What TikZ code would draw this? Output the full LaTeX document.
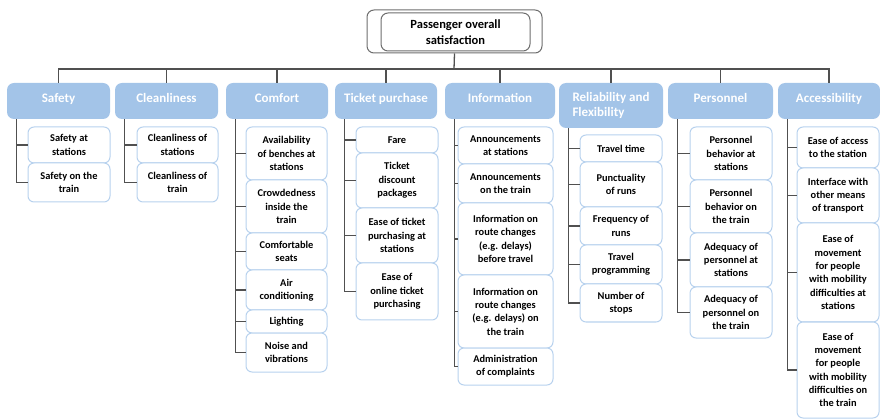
\documentclass[tikz,border=0pt]{standalone}
\usepackage{fontspec}
\setmainfont{Carlito}
\definecolor{hdrfill}{RGB}{163,196,232}
\definecolor{cboxline}{RGB}{184,210,238}
\definecolor{conn}{RGB}{80,80,80}
\definecolor{rootline}{RGB}{110,110,110}
\newcommand\bx[7]{\node[#1, minimum width={#5-#3}, minimum height={#6-#4}] (#2) at ({(#3+#5)/2},{(#4+#6)/2}) {#7};}
\begin{document}
\begin{tikzpicture}[x=1pt,y=-1pt,
  hdr/.style={fill=hdrfill, rounded corners=7pt, inner sep=0pt, text=white, font=\fontsize{13}{15.5}\selectfont\bfseries, align=center},
  hdrone/.style={hdr, text depth=6pt},
  cbox/.style={draw=cboxline, line width=1pt, fill=white, rounded corners=6pt, inner sep=0pt, text=black, font=\fontsize{10.4}{13.3}\selectfont\bfseries, align=center},
  rootbox/.style={draw=rootline, line width=1pt, fill=white, rounded corners=7pt, inner sep=0pt, font=\fontsize{12.5}{16.5}\selectfont\bfseries, align=center},
  conn/.style={draw=conn, line width=1.3pt},
  stub/.style={conn}
]
\useasboundingbox (0,0) rectangle (880,419);
% root
\bx{rootbox}{root}{367}{10}{542}{53}{}
\bx{rootbox}{rooti}{381}{13}{530}{51}{Passenger overall\\satisfaction}
% headers
\bx{hdrone}{h1}{7}{83}{110}{119}{Safety}
\bx{hdrone}{h2}{115}{83}{218}{119}{Cleanliness}
\bx{hdrone}{h3}{226}{83}{328}{119}{Comfort}
\bx{hdrone}{h4}{335}{83}{437}{119}{Ticket purchase}
\bx{hdrone}{h5}{445}{83}{555}{119}{Information}
\bx{hdr,align=left}{h6}{559}{83}{663}{128}{Reliability and\\Flexibility}
\bx{hdrone}{h7}{668}{83}{773}{119}{Personnel}
\bx{hdrone}{h8}{778}{83}{880}{119}{Accessibility}
% bus
\coordinate (bus) at (454,69);
\draw[conn] (root.south) -- (bus);
\draw[conn] (h1.north) -- (h1.north |- bus) -- (h8.north |- bus) -- (h8.north);
\foreach \h in {h2,h3,h4,h5,h6,h7}{\draw[conn] (\h.north) -- (\h.north |- bus);}
% Safety
\bx{cbox}{a1}{28}{127}{110}{163}{Safety at\\stations}
\bx{cbox}{a2}{28}{163}{110}{202}{Safety on the\\train}
% Cleanliness
\bx{cbox}{b1}{137}{127}{218}{163}{Cleanliness of\\stations}
\bx{cbox}{b2}{137}{163}{218}{202}{Cleanliness of\\train}
% Comfort
\bx{cbox}{c1}{246}{127}{327}{180}{Availability\\of benches at\\stations}
\bx{cbox}{c2}{246}{180}{327}{233}{Crowdedness\\inside the\\train}
\bx{cbox}{c3}{246}{233}{327}{270}{Comfortable\\seats}
\bx{cbox}{c4}{246}{270}{327}{310}{Air\\conditioning}
\bx{cbox}{c5}{246}{310}{327}{333}{Lighting}
\bx{cbox}{c6}{246}{333}{327}{372}{Noise and\\vibrations}
% Ticket purchase
\bx{cbox}{d1}{356}{127}{438}{153}{Fare}
\bx{cbox}{d2}{356}{153}{438}{208}{Ticket\\discount\\packages}
\bx{cbox}{d3}{356}{208}{438}{263}{Ease of ticket\\purchasing at\\stations}
\bx{cbox}{d4}{356}{263}{438}{320}{Ease of\\online ticket\\purchasing}
% Information
\bx{cbox}{e1}{458}{127}{553}{164}{Announcements\\at stations}
\bx{cbox}{e2}{458}{164}{553}{203}{Announcements\\on the train}
\bx{cbox}{e3}{458}{203}{553}{275}{Information on\\route changes\\(e.g. delays)\\before travel}
\bx{cbox}{e4}{458}{275}{553}{348}{Information on\\route changes\\(e.g. delays) on\\the train}
\bx{cbox}{e5}{458}{348}{553}{385}{Administration\\of complaints}
% Reliability
\bx{cbox}{f1}{580}{135}{662}{162}{Travel time}
\bx{cbox}{f2}{580}{162}{662}{207}{Punctuality\\of runs}
\bx{cbox}{f3}{580}{207}{662}{245}{Frequency of\\runs}
\bx{cbox}{f4}{580}{245}{662}{284}{Travel\\programming}
\bx{cbox}{f5}{580}{284}{662}{322}{Number of\\stops}
% Personnel
\bx{cbox}{g1}{690}{127}{772}{180}{Personnel\\behavior at\\stations}
\bx{cbox}{g2}{690}{180}{772}{233}{Personnel\\behavior on\\the train}
\bx{cbox}{g3}{690}{233}{772}{287}{Adequacy of\\personnel at\\stations}
\bx{cbox}{g4}{690}{287}{772}{338}{Adequacy of\\personnel on\\the train}
% Accessibility
\bx{cbox}{k1}{797}{127}{879}{168}{Ease of access\\to the station}
\bx{cbox}{k2}{797}{168}{879}{223}{Interface with\\other means\\of transport}
\bx{cbox}{k3}{797}{223}{879}{322}{Ease of\\movement\\for people\\with mobility\\difficulties at\\stations}
\bx{cbox}{k4}{797}{322}{879}{418}{Ease of\\movement\\for people\\with mobility\\difficulties on\\the train}
% column connectors
\foreach \h/\list in {h1/{a1,a2}, h2/{b1,b2}, h3/{c1,c2,c3,c4,c5,c6}, h4/{d1,d2,d3,d4}, h5/{e1,e2,e3,e4,e5}, h6/{f1,f2,f3,f4,f5}, h7/{g1,g2,g3,g4}, h8/{k1,k2,k3,k4}}{
  \foreach \c in \list {\draw[stub] ([xshift=10pt]\h.south west) |- (\c.west);}
}
\end{tikzpicture}
\end{document}
